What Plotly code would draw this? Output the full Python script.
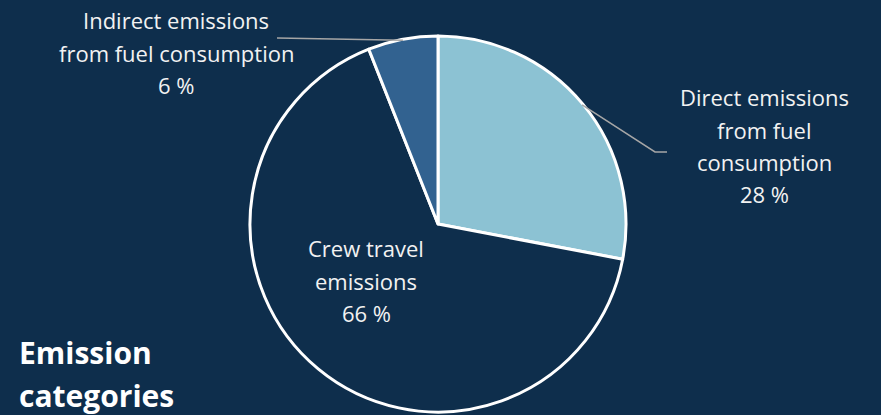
import math
import plotly.graph_objects as go

# Emission shares by category (percent)
categories = ["Direct emissions from fuel consumption", "Crew travel emissions",
              "Indirect emissions from fuel consumption"]
shares = [28, 66, 6]
label_lines = [
    ["Direct emissions", "from fuel", "consumption"],
    ["Crew travel", "emissions"],
    ["Indirect emissions", "from fuel consumption"],
]
slice_colors = ["#8CC2D3", "#0E2E4C", "#326290"]

BG = "#0E2E4C"
TEXT = "#F2F2F2"
W, H = 881, 415
CX, CY, R = 438, 224, 188  # pie centre and radius in pixels

fig = go.Figure(go.Pie(
    labels=categories,
    values=shares,
    sort=False,
    direction="clockwise",
    rotation=0,
    textinfo="none",
    hoverinfo="label+percent",
    marker=dict(colors=slice_colors, line=dict(color="white", width=3)),
    domain=dict(x=[(CX - R) / W, (CX + R) / W],
                y=[(H - CY - R) / H, (H - CY + R) / H]),
    showlegend=False,
))


def px(x):
    return x / W


def py(y):
    return 1 - y / H


def mid_point(i, r):
    total = sum(shares)
    start = sum(shares[:i])
    a = 2 * math.pi * (start + shares[i] / 2) / total
    return CX + r * math.sin(a), CY - r * math.cos(a)


annotations = []
shapes = []

# label blocks: (slice index, centre x, first line y)
label_pos = [(0, 764, 97), (1, 366, 248), (2, 176, 20)]
LINE_STEP = 32.5
for idx, lx, ly in label_pos:
    lines = label_lines[idx] + [f"{shares[idx]} %"]
    for k, t in enumerate(lines):
        annotations.append(dict(
            x=px(lx), y=py(ly + k * LINE_STEP), xref="paper", yref="paper",
            text=t, showarrow=False, xanchor="center", yanchor="middle",
            font=dict(family="Open Sans", size=22, color=TEXT),
        ))

# leader lines from the outer edge of the slice to its label
lc = "#A6A6A6"
sx, sy = mid_point(0, R - 1)
path = f"M {px(sx)} {py(sy)} L {px(655)} {py(152)} L {px(667)} {py(152)}"
shapes.append(dict(type="path", xref="paper", yref="paper", path=path,
                   line=dict(color=lc, width=1.5)))
sx, sy = mid_point(2, R - 1)
shapes.append(dict(type="line", xref="paper", yref="paper",
                   x0=px(sx), y0=py(sy), x1=px(277), y1=py(38),
                   line=dict(color=lc, width=1.5)))

# chart title, bottom left
for k, t in enumerate(["Emission", "categories"]):
    annotations.append(dict(
        x=px(17), y=py(352 + k * 43), xref="paper", yref="paper",
        text=f"<b>{t}</b>", showarrow=False, xanchor="left", yanchor="middle",
        font=dict(family="Open Sans", size=30, color="white"),
    ))

fig.update_layout(
    width=W, height=H,
    margin=dict(l=0, r=0, t=0, b=0),
    paper_bgcolor=BG, plot_bgcolor=BG,
    annotations=annotations, shapes=shapes,
)

fig.write_html("out.html", config={"displayModeBar": False})
